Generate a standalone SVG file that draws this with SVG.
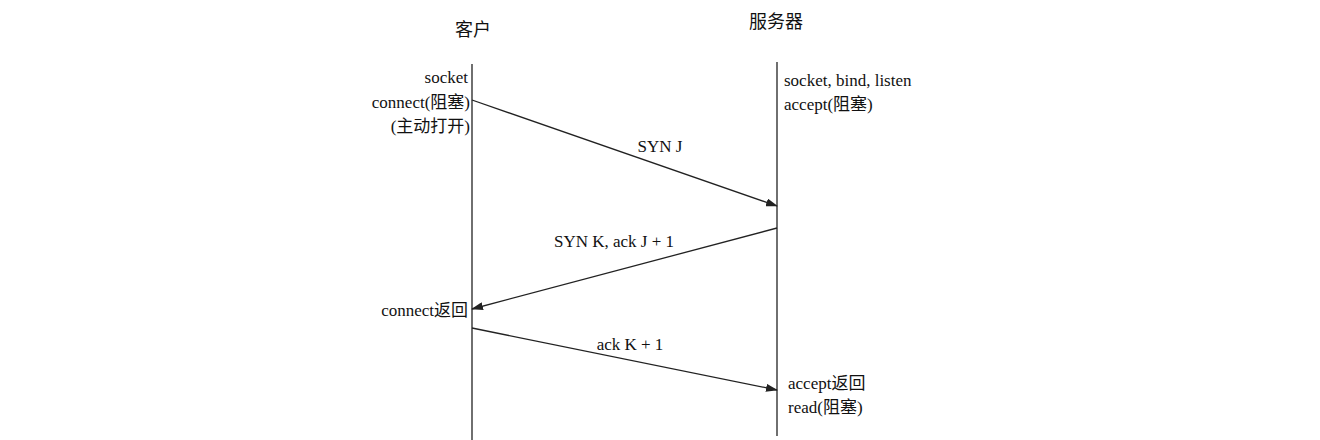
<svg xmlns="http://www.w3.org/2000/svg" width="1320" height="440" viewBox="0 0 1320 440">
<style>
text{font-family:"Liberation Serif","Noto Sans CJK SC",serif;font-size:17px;fill:#111}
.h{font-size:18px}
.l{stroke:#222;stroke-width:1.3;fill:none}
</style>
<defs><marker id="a" markerWidth="12" markerHeight="8" refX="11" refY="4" orient="auto" markerUnits="userSpaceOnUse"><path d="M0,0 L12,4 L0,8 Z" fill="#222"/></marker></defs>
<rect width="1320" height="440" fill="#fff"/>
<g id="client"><text class="h" x="473" y="36" text-anchor="middle">客户</text><line class="l" x1="472" y1="64" x2="472" y2="440"/>
<text x="468" y="83" text-anchor="end">socket</text>
<text x="470" y="108" text-anchor="end">connect(阻塞)</text>
<text x="470" y="132" text-anchor="end">(主动打开)</text>
<text x="468" y="316" text-anchor="end">connect返回</text></g>
<g id="server"><text class="h" x="776" y="28" text-anchor="middle">服务器</text><line class="l" x1="777" y1="62" x2="777" y2="436"/>
<text x="784" y="86">socket, bind, listen</text>
<text x="784" y="110">accept(阻塞)</text>
<text x="788" y="389">accept返回</text>
<text x="788" y="413">read(阻塞)</text></g>
<g id="connectors">
<line class="l" x1="472" y1="100" x2="777" y2="206" marker-end="url(#a)"/>
<line class="l" x1="777" y1="228" x2="472" y2="309" marker-end="url(#a)"/>
<line class="l" x1="472" y1="328" x2="777" y2="390" marker-end="url(#a)"/>
<text x="660" y="152" text-anchor="middle">SYN  J</text>
<text x="614" y="247" text-anchor="middle">SYN  K, ack  J + 1</text>
<text x="630" y="350" text-anchor="middle">ack  K + 1</text>
</g>
</svg>
